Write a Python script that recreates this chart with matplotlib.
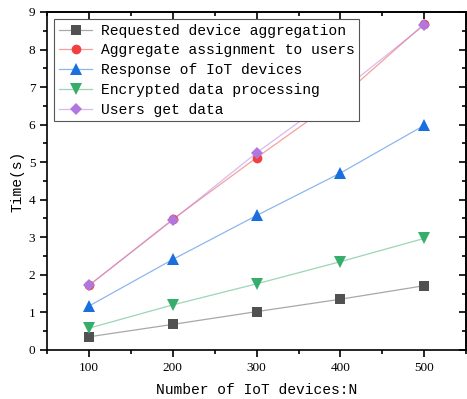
import numpy as np
import matplotlib
matplotlib.use("Agg")
import matplotlib.pyplot as plt
from matplotlib.ticker import MultipleLocator
from matplotlib.lines import Line2D

plt.rcParams['font.family'] = ['Liberation Mono', 'DejaVu Sans']

# data
N = [100, 200, 300, 400, 500]
requested = [0.35, 0.68, 1.02, 1.35, 1.71]
aggregate = [1.72, 3.48, 5.12, 6.71, 8.68]
response = [1.17, 2.41, 3.58, 4.71, 5.98]
encrypted = [0.58, 1.20, 1.76, 2.35, 2.97]
users_get = [1.72, 3.46, 5.25, 6.87, 8.65]

labels = ["Requested device aggregation", "Aggregate assignment to users",
          "Response of IoT devices", "Encrypted data processing", "Users get data"]
series = [requested, aggregate, response, encrypted, users_get]
colors = ["#515151", "#F14040", "#1A6FDF", "#37AD6B", "#B177DE"]
markers = ["s", "o", "^", "v", "D"]
msizes = [6.5, 7, 8, 8, 6.5]

fig = plt.figure(figsize=(4.67, 3.99), dpi=100)
ax = fig.add_axes([0.101, 0.123, 0.897, 0.847])

handles = []
for y, lab, c, m, ms in zip(series, labels, colors, markers, msizes):
    ax.plot(N, y, '-', color=c, alpha=0.5, lw=0.9)
    ax.plot(N, y, ls='none', marker=m, markersize=ms, color=c, markeredgewidth=0)
    handles.append(Line2D([], [], color=matplotlib.colors.to_rgba(c, 0.5), lw=0.9,
                          marker=m, markersize=ms, markerfacecolor=c,
                          markeredgewidth=0))

ax.set_xlim(50, 550)
ax.set_ylim(0, 9)
ax.xaxis.set_major_locator(MultipleLocator(100))
ax.xaxis.set_minor_locator(MultipleLocator(50))
ax.yaxis.set_major_locator(MultipleLocator(1))
ax.yaxis.set_minor_locator(MultipleLocator(0.5))

ax.tick_params(which='both', direction='out', top=False, right=False, width=1.2, labelsize=9.5)
ax.tick_params(which='major', length=5)
ax.tick_params(which='minor', length=3)
for t in ax.get_xticklabels() + ax.get_yticklabels():
    t.set_fontfamily('Liberation Serif')
# top and right ticks point inward
ax2 = ax.secondary_xaxis('top')
ax2.xaxis.set_major_locator(MultipleLocator(100))
ax2.xaxis.set_minor_locator(MultipleLocator(50))
ax2.tick_params(which='both', direction='in', labeltop=False, width=1.2)
ax2.tick_params(which='major', length=5)
ax2.tick_params(which='minor', length=3)
ax3 = ax.secondary_yaxis('right')
ax3.yaxis.set_major_locator(MultipleLocator(1))
ax3.yaxis.set_minor_locator(MultipleLocator(0.5))
ax3.tick_params(which='both', direction='in', labelright=False, width=1.2)
ax3.tick_params(which='major', length=5)
ax3.tick_params(which='minor', length=3)
for a in [ax, ax2, ax3]:
    for s in a.spines.values():
        s.set_linewidth(1.2)

ax.set_xlabel("Number of IoT devices:N", fontsize=10.5, labelpad=7)
ax.set_ylabel("Time(s)", fontsize=10.5, labelpad=3)

leg = ax.legend(handles, labels, loc='upper left', fontsize=10.5, fancybox=False,
                framealpha=1, edgecolor='#555555', handlelength=2.3,
                handletextpad=0.6, borderpad=0.3, labelspacing=0.4,
                borderaxespad=0.5)
leg.get_frame().set_linewidth(0.8)

fig.savefig("out.png", dpi=100)
